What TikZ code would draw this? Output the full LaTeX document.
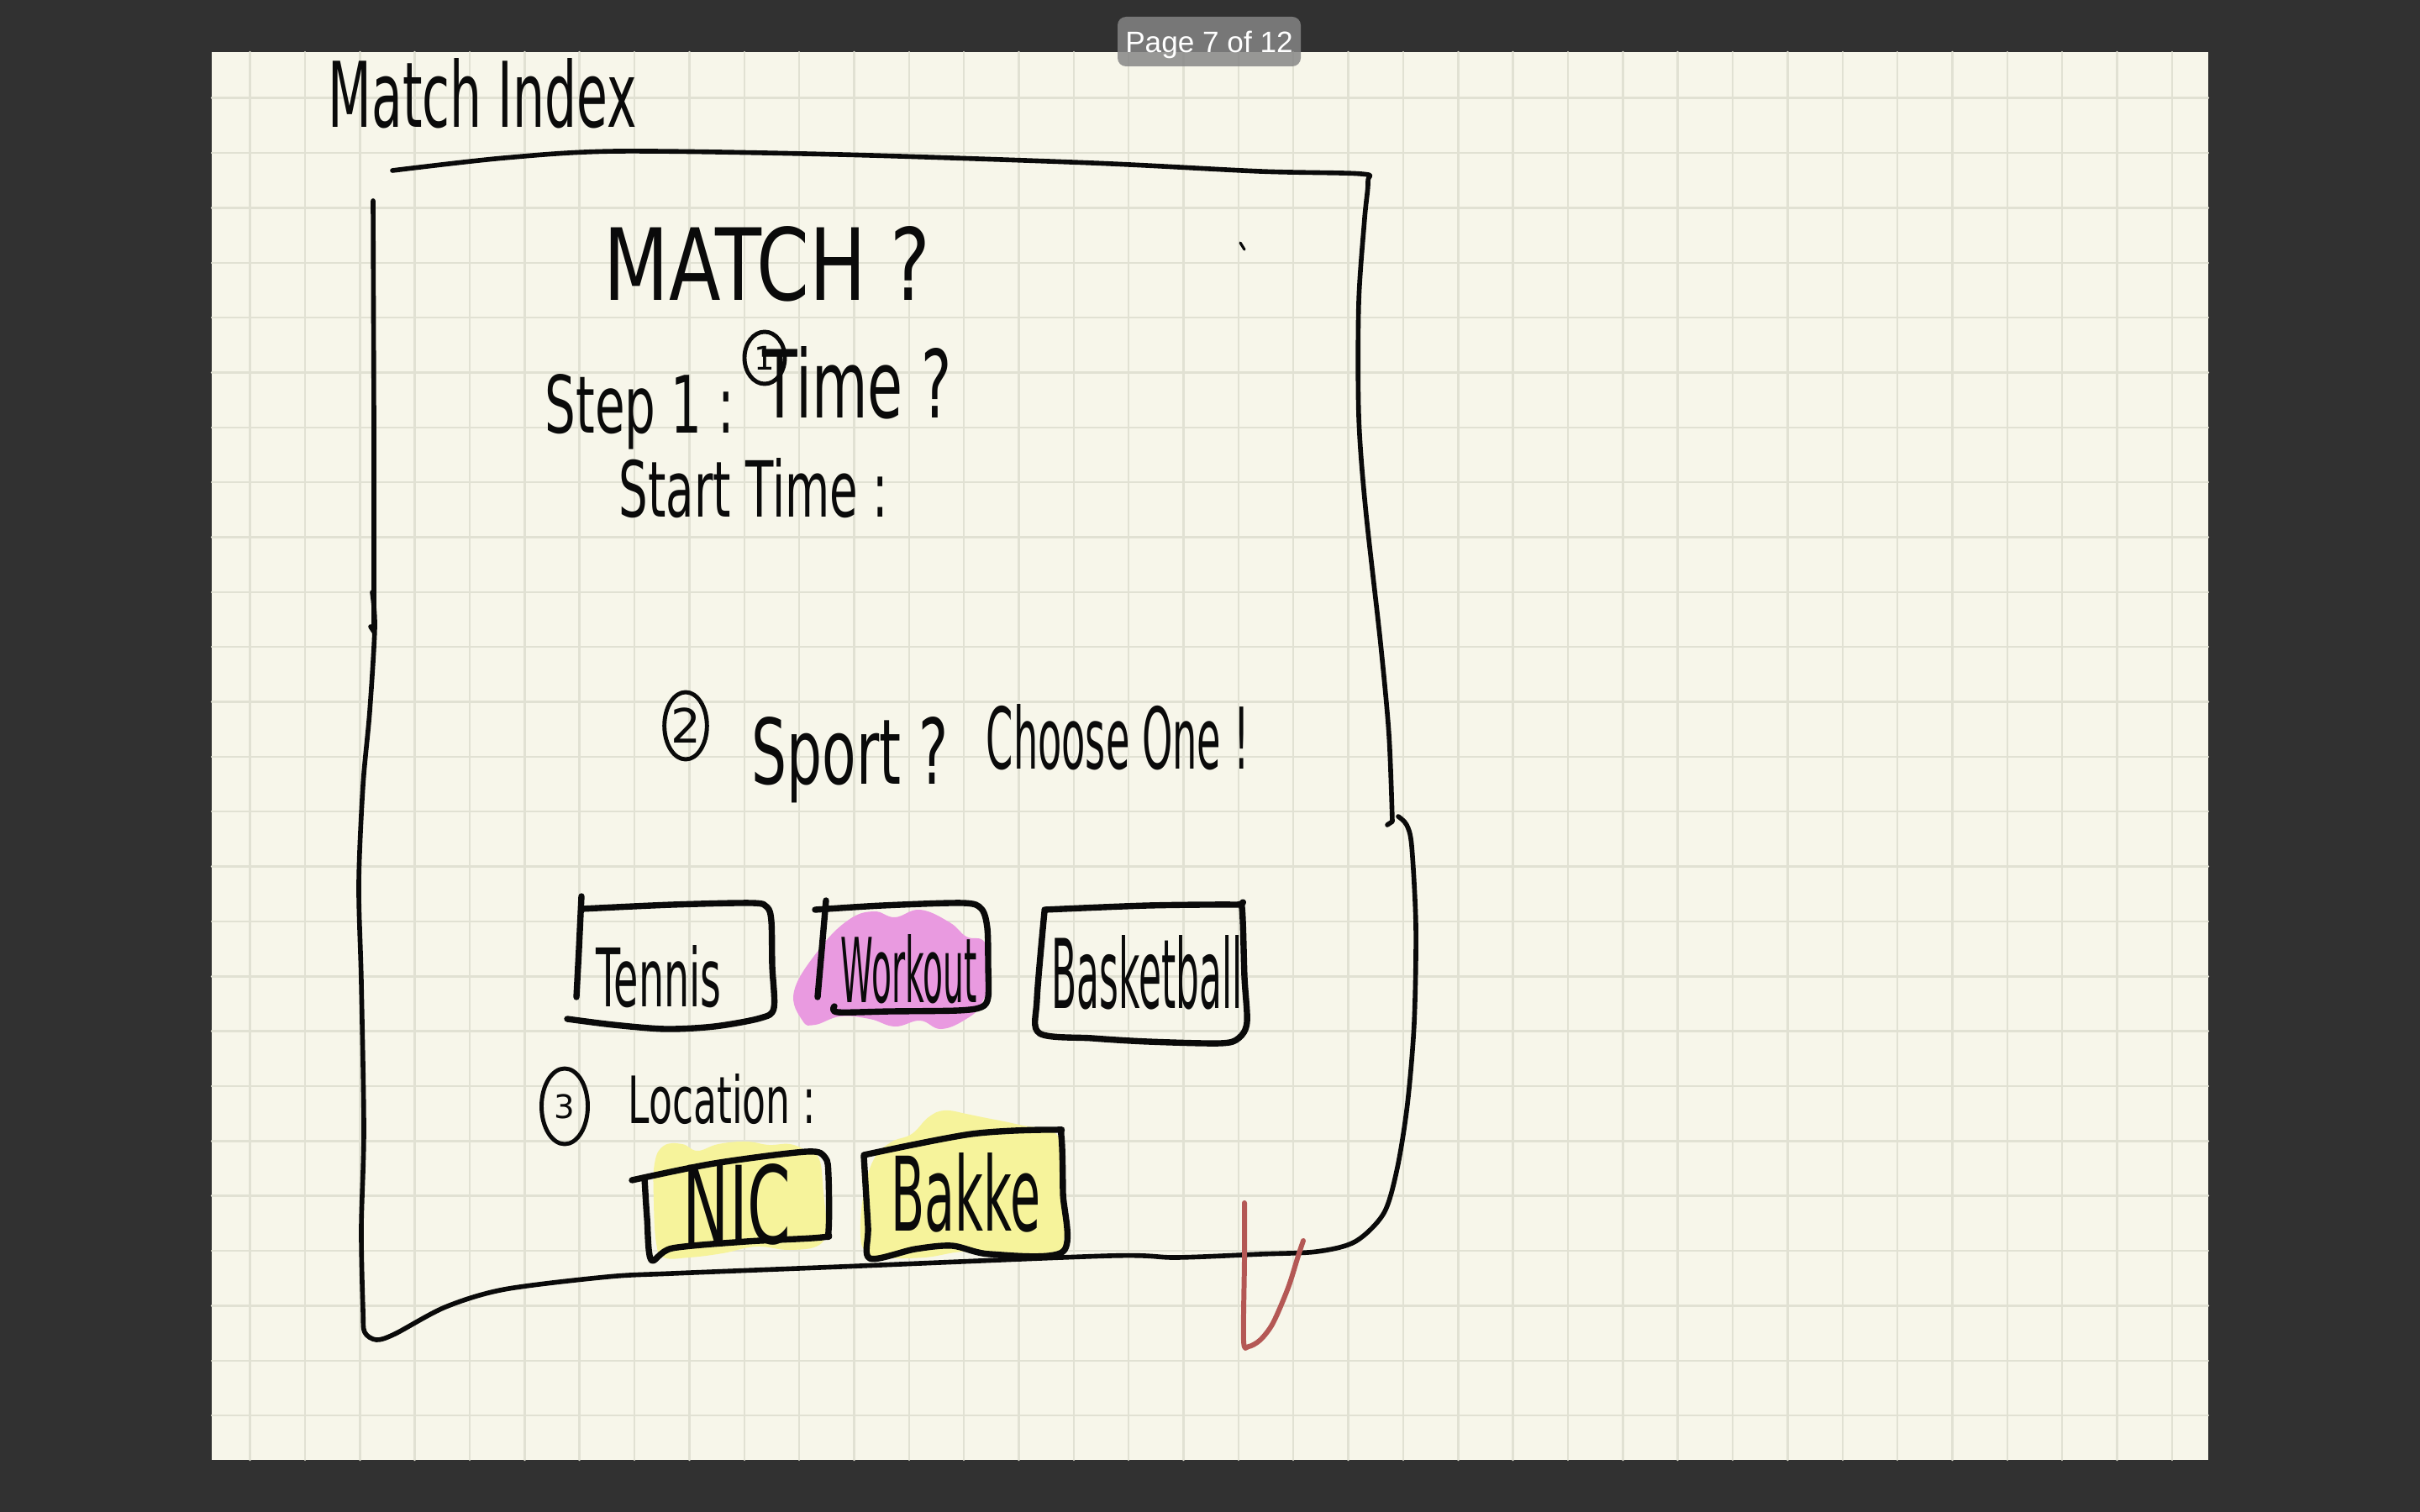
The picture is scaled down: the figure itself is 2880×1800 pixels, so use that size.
\documentclass[tikz,border=0pt]{standalone}
\usepackage{fontspec}
\usepackage{graphicx}
\setmainfont{DejaVu Sans}
\newfontfamily\uifont{Liberation Sans}
\usetikzlibrary{shapes.geometric}
\definecolor{deskgray}{HTML}{313131}
\definecolor{paper}{HTML}{F7F6EA}
\definecolor{gridgray}{HTML}{E1E1D3}
\definecolor{ink}{HTML}{0A0A0A}
\definecolor{redink}{HTML}{B45855}
\definecolor{pinkmark}{HTML}{E99AE0}
\definecolor{yellowmark}{HTML}{F6F39B}
\definecolor{pillgray}{HTML}{858585}
\newlength\pxu
\setlength\pxu{0.01cm}
\newcommand\hand[3]{\resizebox{#1\pxu}{#2\pxu}{#3}}
\begin{document}
\begin{tikzpicture}[x=0.01cm, y=-0.01cm, line cap=round, line join=round,
    gridrule/.style={gridgray, line width=0.7pt},
    frameline/.style={ink, line width=1.6pt},
    boxline/.style={ink, line width=2.1pt},
    txt/.style={anchor=base west, inner sep=0pt, text=ink},
    stepnum/.style={draw=ink, line width=1.4pt, ellipse, inner sep=0pt, text=ink}]
        \useasboundingbox (0,0) rectangle (2880,1800);
        \fill[deskgray] (0,0) rectangle (2880,1800);
        \fill[paper] (252,62) rectangle (2628,1738);
        \foreach \gx in {0,...,35}
            \draw[gridrule] ({297.6+65.35*\gx},62) -- ({297.6+65.35*\gx},1738);
        \foreach \gy in {0,...,24}
            \draw[gridrule] (252,{116.7+65.35*\gy}) -- (2628,{116.7+65.35*\gy});
        % highlights
        \fill[pinkmark] plot[smooth cycle, tension=0.7] coordinates {(955,1215) (945,1180) (975,1130) (1010,1095) (1040,1085) (1065,1092) (1095,1083) (1130,1098) (1150,1115) (1172,1122) (1178,1160) (1168,1195) (1150,1213) (1120,1225) (1095,1215) (1065,1222) (1035,1213) (1000,1210) (970,1220)};
        \fill[yellowmark] plot[smooth cycle, tension=0.7] coordinates {(781,1480) (778,1430) (779,1385) (790,1364) (812,1362) (830,1370) (855,1362) (888,1359) (915,1363) (940,1362) (960,1370) (975,1380) (980,1420) (983,1460) (975,1482) (940,1488) (900,1484) (860,1492) (820,1497) (790,1497)};
        \fill[yellowmark] plot[smooth cycle, tension=0.7] coordinates {(1024,1467) (1028,1420) (1040,1380) (1060,1360) (1085,1350) (1105,1330) (1124,1322) (1150,1326) (1169,1330) (1195,1335) (1218,1340) (1245,1345) (1262,1360) (1268,1420) (1267,1470) (1255,1497) (1200,1497) (1150,1490) (1100,1497) (1050,1497) (1030,1490)};
        % outer frame
        \draw[frameline] plot[smooth, tension=0.5] coordinates {(467,203) (600,188) (735,180) (1000,184) (1300,194) (1500,204) (1620,207) (1628,216) (1624,260) (1617,360) (1617,495) (1625,604) (1643,766) (1653,875) (1657,978)} -- (1651,982);
        \draw[frameline] (444,239) -- (445,500) -- (445,752) -- (441,746);
        \draw[frameline] plot[smooth, tension=0.5] coordinates {(1664,972) (1674,982) (1680,1007) (1685,1103) (1683,1218) (1675,1314) (1663,1390) (1647,1444) (1613,1478) (1567,1490) (1500,1493) (1400,1497) (1320,1495) (1000,1508) (800,1516) (723,1520) (600,1535) (530,1556) (470,1588) (448,1595) (434,1586) (432,1560) (430,1463) (433,1345) (430,1169) (427,1052) (432,935) (440,847) (446,747) (443,705)};
        \draw[ink, line width=0.9pt] (1476,289) -- (1481,297);
        % title and headings
        \node[txt] (title) at (390,152) {\hand{367}{82}{Match Index}};
        \node[txt] (match) at (718,357) {\hand{389}{88}{MATCH ?}};
        \node[txt] (step) at (648,515) {\hand{225}{70}{Step 1 :}};
        \node[stepnum, minimum width=48\pxu, minimum height=62\pxu, font=\fontsize{11}{11}\selectfont] (num1) at (910,426) {1};
        \node[txt] (time) at (907,498) {\hand{225}{85}{Time ?}};
        \node[txt] (start) at (736,615) {\hand{320}{70}{Start Time :}};
        \node[stepnum, minimum width=48\pxu, minimum height=80\pxu, font=\fontsize{16}{16}\selectfont] (num2) at (816,864) {2};
        \node[txt] (sport) at (894,933) {\hand{234}{80}{Sport ?}};
        \node[txt] (choose) at (1173,915) {\hand{313}{77}{Choose One !}};
        % sport boxes
        \draw[boxline] (692,1067) -- (689,1130) -- (686,1187);
        \draw[boxline] plot[smooth, tension=0.5] coordinates {(692,1082) (800,1077) (895,1075) (913,1080) (918,1097) (919,1150) (921,1200) (905,1212) (850,1222) (792,1225) (730,1220) (675,1213)};
        \node[txt] (tennis) at (709,1198) {\hand{149}{73}{Tennis}};
        \draw[boxline] (983,1072) -- (978,1130) -- (973,1187);
        \draw[boxline] plot[smooth, tension=0.5] coordinates {(970,1083) (1050,1078) (1146,1075) (1168,1082) (1175,1105) (1176,1150) (1176,1187) (1168,1199) (1140,1203) (1060,1204) (997,1205) (993,1198)};
        \node[txt] (workout) at (1000,1193) {\hand{162}{81}{Workout}};
        \draw[boxline] plot[smooth, tension=0.5] coordinates {(1243,1085) (1234,1190) (1237,1230) (1300,1236) (1366,1240) (1452,1242) (1474,1236) (1484,1217) (1481,1163) (1478,1080) (1470,1077) (1366,1078) (1243,1083)};
        \node[txt] (basketball) at (1251,1200) {\hand{227}{87}{Basketball}};
        % location
        \node[stepnum, minimum width=55\pxu, minimum height=90\pxu, font=\fontsize{11}{11}\selectfont] (num3) at (672,1317) {3};
        \node[txt] (location) at (747,1337) {\hand{223}{59}{Location :}};
        \draw[boxline] plot[smooth, tension=0.5] coordinates {(752,1405) (850,1385) (960,1371) (982,1378) (986,1400) (986,1465) (978,1473) (888,1478) (800,1486) (775,1500) (770,1450) (767,1402)};
        \node[txt] (nic) at (812,1480) {\hand{129}{95}{NIC}};
        \draw[boxline] plot[smooth, tension=0.5] coordinates {(1028,1375) (1156,1350) (1254,1345) (1263,1352) (1265,1420) (1265,1490) (1178,1493) (1133,1483) (1089,1487) (1035,1498) (1033,1460) (1028,1376)};
        \node[txt] (bakke) at (1060,1465) {\hand{178}{93}{Bakke}};
        % check
        \draw[redink, line width=1.7pt] plot[smooth, tension=0.5] coordinates {(1481,1432) (1481,1500) (1480,1596) (1486,1603) (1500,1595) (1515,1575) (1533,1533) (1545,1495) (1551,1477)};
        % viewer label
        \fill[pillgray, fill opacity=0.84, rounded corners=10\pxu] (1330,20) rectangle (1548,79);
        \node[anchor=base, inner sep=0pt, text=white, font=\uifont\fontsize{10}{12}\selectfont] (pagelabel) at (1439,63) {Page 7 of 12};
\end{tikzpicture}
\end{document}
